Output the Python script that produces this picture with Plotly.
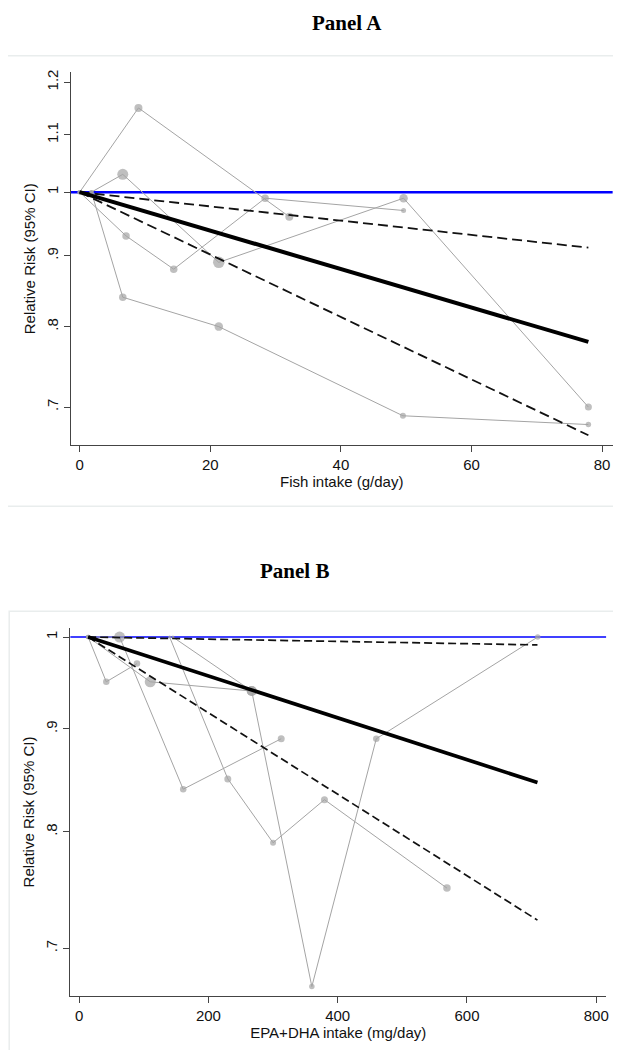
import math
import plotly.graph_objects as go

W, H = 621, 1050

# ---------------- Panel A data (fish intake, g/day) ----------------
a_s1_x = [0, 9.0, 32.1]
a_s1_rr = [1.0, 1.15, 0.96]
a_s1_sz = [4.5, 8, 8]

a_s2_x = [0, 7.1, 14.4, 28.4, 49.6]
a_s2_rr = [1.0, 0.93, 0.88, 0.99, 0.97]
a_s2_sz = [4.5, 7.5, 7.5, 7.5, 5]

a_s3_x = [1.8, 6.6, 21.3, 49.6, 77.9]
a_s3_rr = [1.0, 1.03, 0.89, 0.99, 0.70]
a_s3_sz = [4.5, 11, 11.5, 8.5, 7]

a_s4_x = [1.8, 6.6, 21.3, 49.5, 77.9]
a_s4_rr = [1.0, 0.84, 0.80, 0.69, 0.68]
a_s4_sz = [4.5, 7.5, 8.5, 6, 5.5]

a_fit_x = [0, 77.9]
a_fit_rr = [1.0, 0.78]
a_fit_lo = [1.0, 0.668]
a_fit_hi = [1.0, 0.912]

a_xticks = [0, 20, 40, 60, 80]
a_yticks = [0.7, 0.8, 0.9, 1.0, 1.1, 1.2]
a_yticktext = [".7", ".8", ".9", "1", "1.1", "1.2"]
a_xrange = [-1.39, 81.64]
a_yrange = [0.657, 1.22]

# ---------------- Panel B data (EPA+DHA intake, mg/day) ----------------
b_s1_x = [14, 42, 89.5]
b_s1_rr = [1.0, 0.95, 0.97]
b_s1_sz = [4.5, 6.5, 6.5]

b_s2_x = [14, 62.6, 161, 312.6]
b_s2_rr = [1.0, 1.0, 0.84, 0.89]
b_s2_sz = [4.5, 11, 6.5, 7]

b_s3_x = [14, 110, 267]
b_s3_rr = [1.0, 0.95, 0.94]
b_s3_sz = [4.5, 11, 10]

b_s4_x = [140, 230, 300, 379.5, 569]
b_s4_rr = [1.0, 0.85, 0.79, 0.83, 0.75]
b_s4_sz = [3, 7, 6, 7, 7.5]

b_s5_x = [145, 267, 360, 459.7, 709.4]
b_s5_rr = [1.0, 0.94, 0.67, 0.89, 1.0]
b_s5_sz = [3, 10, 5.5, 6.5, 5.5]

b_fit_x = [14, 709]
b_fit_rr = [1.0, 0.8465]
b_fit_lo = [1.0, 0.723]
b_fit_hi = [1.0, 0.991]

b_xticks = [0, 200, 400, 600, 800]
b_yticks = [0.7, 0.8, 0.9, 1.0]
b_yticktext = [".7", ".8", ".9", "1"]
b_xrange = [-13.8, 815.5]
b_yrange = [0.6628, 1.0104]

# ---------------- styling ----------------
GRAY = "#a4a4a4"
SANS = "Liberation Sans, Arimo, Arial, sans-serif"
SERIF = "Liberation Serif, Times New Roman, serif"

fig = go.Figure()


def add_panel(xa, ya, studies, fit_x, fit_rr, lo, hi, xrange_, blue_w, thick_w, dash_w, dash):
    # reference line RR = 1
    fig.add_trace(go.Scatter(x=xrange_, y=[1, 1], mode="lines",
                             line=dict(color="#0000ff", width=blue_w),
                             xaxis=xa, yaxis=ya, hoverinfo="skip", showlegend=False))
    for sx, sy, ss in studies:
        fig.add_trace(go.Scatter(x=sx, y=sy, mode="lines+markers",
                                 line=dict(color=GRAY, width=1),
                                 marker=dict(color=GRAY, size=ss, line=dict(width=0)),
                                 xaxis=xa, yaxis=ya, showlegend=False))
    for band in (lo, hi):
        fig.add_trace(go.Scatter(x=fit_x, y=band, mode="lines",
                                 line=dict(color="#111111", width=dash_w, dash=dash),
                                 xaxis=xa, yaxis=ya, showlegend=False))
    fig.add_trace(go.Scatter(x=fit_x, y=fit_rr, mode="lines",
                             line=dict(color="#000000", width=thick_w),
                             xaxis=xa, yaxis=ya, showlegend=False))


add_panel("x", "y",
          [(a_s1_x, a_s1_rr, a_s1_sz), (a_s2_x, a_s2_rr, a_s2_sz),
           (a_s3_x, a_s3_rr, a_s3_sz), (a_s4_x, a_s4_rr, a_s4_sz)],
          a_fit_x, a_fit_rr, a_fit_lo, a_fit_hi, a_xrange, 2.5, 4, 1.8, "10px,5px")
add_panel("x2", "y2",
          [(b_s1_x, b_s1_rr, b_s1_sz), (b_s2_x, b_s2_rr, b_s2_sz),
           (b_s3_x, b_s3_rr, b_s3_sz), (b_s4_x, b_s4_rr, b_s4_sz),
           (b_s5_x, b_s5_rr, b_s5_sz)],
          b_fit_x, b_fit_rr, b_fit_lo, b_fit_hi, b_xrange, 1.5, 3.7, 1.7, "8px,4px")

tickfont = dict(family=SANS, size=15, color="#111111")
titlefont = dict(family=SANS, size=15, color="#111111")


def xax(domain, rng, ticks, title, anchor):
    return dict(domain=domain, range=rng, tickvals=ticks, anchor=anchor,
                ticks="outside", ticklen=6, tickcolor="#444", tickwidth=1,
                showline=True, linecolor="#444", linewidth=1,
                showgrid=False, zeroline=False, tickfont=tickfont,
                title=dict(text=title, font=titlefont, standoff=2),
                automargin=False, fixedrange=True)


def yax(domain, rng, ticks, ticktext, anchor):
    return dict(domain=domain, type="log",
                range=[math.log10(rng[0]), math.log10(rng[1])],
                tickvals=ticks, ticktext=ticktext, tickangle=-90, anchor=anchor,
                ticks="outside", ticklen=6, tickcolor="#444", tickwidth=1,
                showline=True, linecolor="#444", linewidth=1,
                showgrid=False, zeroline=False, tickfont=tickfont,
                title=dict(text="Relative Risk (95% CI)", font=titlefont, standoff=4),
                automargin=False, fixedrange=True)


fig.update_layout(
    width=W, height=H,
    margin=dict(l=0, r=0, t=0, b=0),
    paper_bgcolor="white", plot_bgcolor="white",
    showlegend=False,
    xaxis=xax([62.6 / W, 604.8 / W], a_xrange, a_xticks, "Fish intake (g/day)", "y"),
    yaxis=yax([1 - 437.3 / H, 1 - 64.3 / H], a_yrange, a_yticks, a_yticktext, "x"),
    xaxis2=xax([62.2 / W, 598.3 / W], b_xrange, b_xticks, "EPA+DHA intake (mg/day)", "y2"),
    yaxis2=yax([1 - 988.0 / H, 1 - 620.0 / H], b_yrange, b_yticks, b_yticktext, "x2"),
    shapes=[
        dict(type="line", xref="paper", yref="paper", x0=-0.01, x1=1.01,
             y0=1 - 47.7 / H, y1=1 - 47.7 / H, line=dict(color="#e9eded", width=1.5)),
        dict(type="line", xref="paper", yref="paper", x0=-0.01, x1=1.01,
             y0=1 - 498.3 / H, y1=1 - 498.3 / H, line=dict(color="#e9eded", width=1.5)),
        dict(type="rect", xref="paper", yref="paper", x0=1.2 / W, x1=614 / W,
             y0=1 - 1049.3 / H, y1=1 - 603.3 / H, line=dict(color="#e9eded", width=1.5)),
    ],
    annotations=[
        dict(text="<b>Panel A</b>", x=338.7 / W, y=1 - 1.0 / H, xref="paper", yref="paper",
             xanchor="center", yanchor="top", showarrow=False,
             font=dict(family=SERIF, size=21, color="#000")),
        dict(text="<b>Panel B</b>", x=286.4 / W, y=1 - 563 / H, xref="paper", yref="paper",
             xanchor="center", yanchor="middle", showarrow=False,
             font=dict(family=SERIF, size=21, color="#000")),
    ],
)

fig.write_html("out.html")
